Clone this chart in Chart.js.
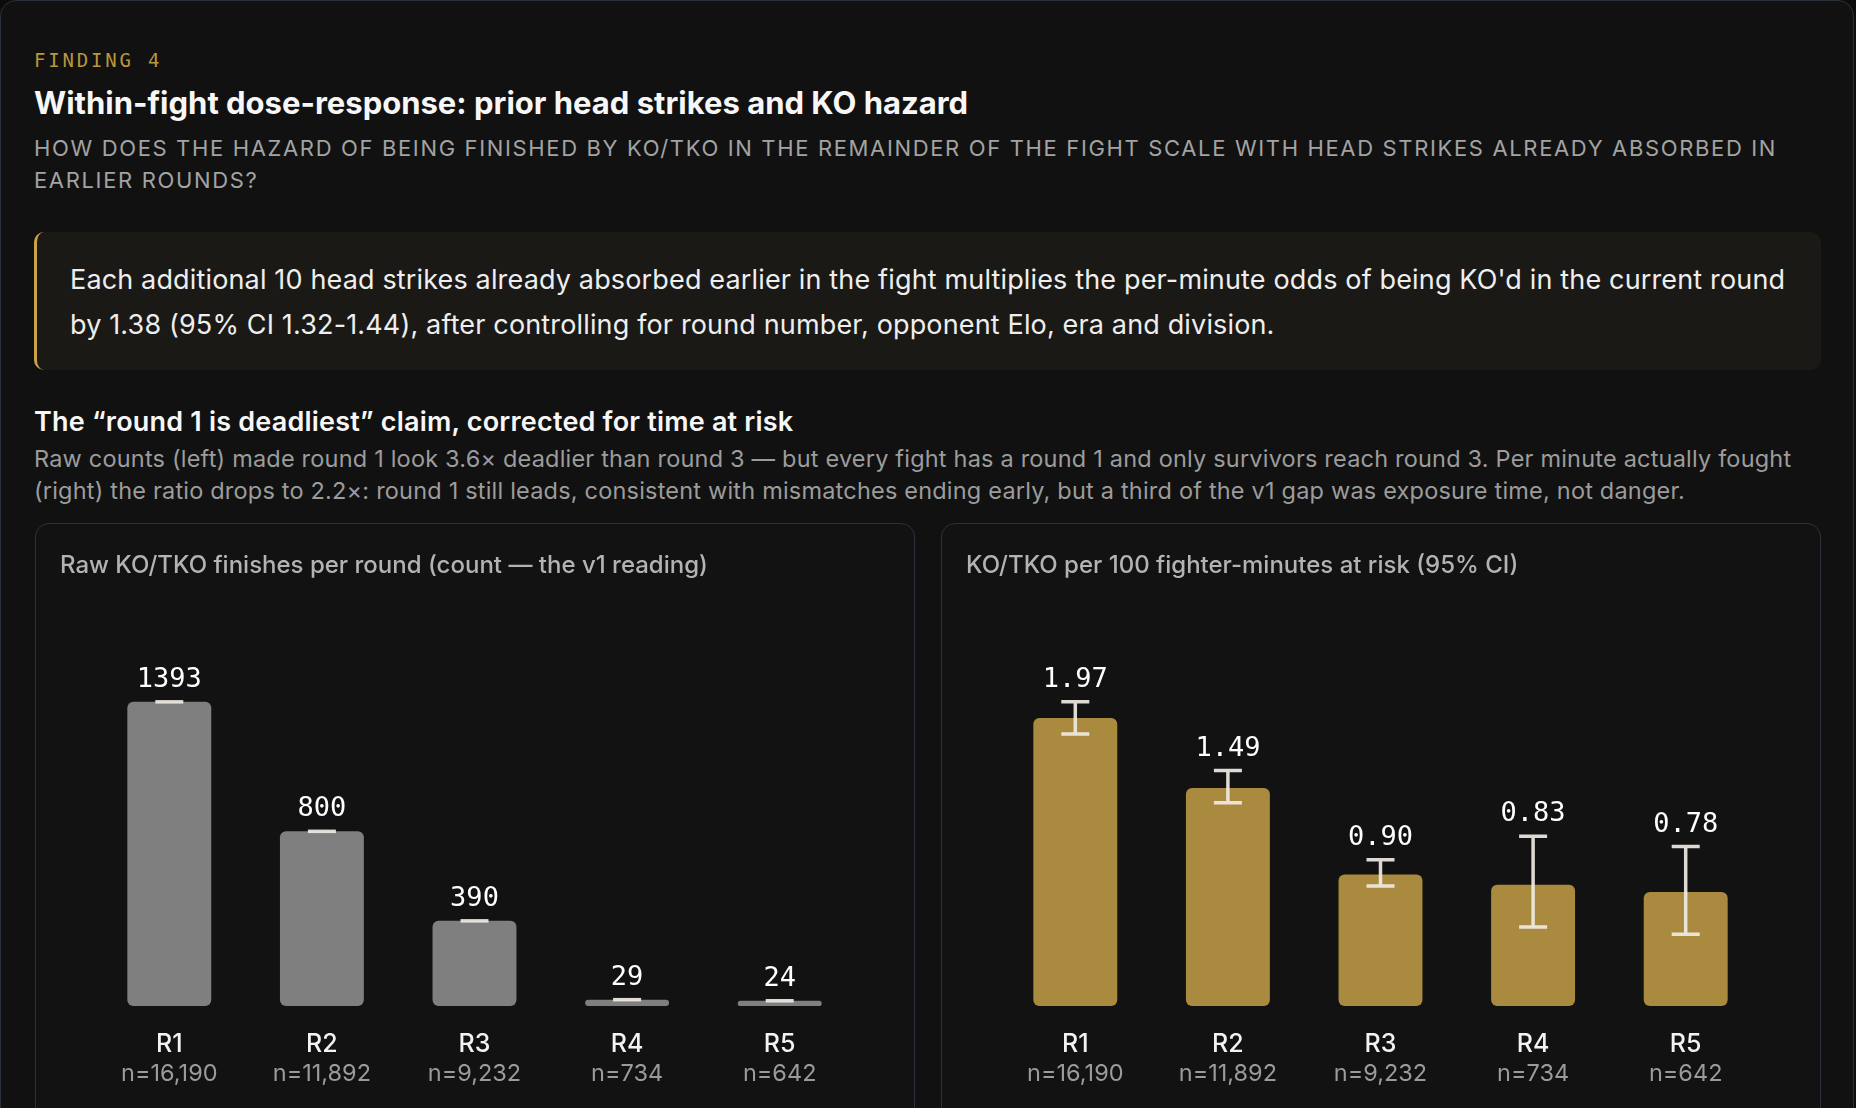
<!DOCTYPE html>
<html>
<head>
<meta charset="utf-8">
<script src="https://cdn.jsdelivr.net/npm/chart.js@4.4.1/dist/chart.umd.min.js"></script>
<style>
  html, body { margin: 0; padding: 0; background: #0c0c0c; overflow: hidden; }
  body { width: 1856px; height: 1108px; position: relative; font-family: "Inter", "Noto Sans", sans-serif; }
  .card { position: absolute; left: 0; top: 0; width: 1852px; height: 1200px; border: 1px solid #2a3038; border-radius: 16px; background: #111111; }
  .abs { position: absolute; white-space: nowrap; }
  #kicker { left: 34px; top: 48px; font: 19px/24px "DejaVu Sans Mono", monospace; color: #b8963e; letter-spacing: 2.8px; }
  #title { left: 34px; top: 84px; font-weight: 700; font-size: 31px; line-height: 38px; color: #f7f7f7; }
  #sub { left: 34px; top: 132px; width: 1787px; white-space: normal; font-size: 22px; line-height: 32px; color: #a3a3a3; letter-spacing: 1.65px; }
  #callout { left: 34px; top: 232px; width: 1787px; height: 138px; box-sizing: border-box; padding: 25px 0 0 33px; background: #1a1916; border-left: 3px solid #c9a24a; border-radius: 10px; font-size: 27px; line-height: 45px; letter-spacing: 0.15px; color: #eeeeee; white-space: normal; }
  #sect { left: 34px; top: 405px; font-weight: 600; font-size: 27px; line-height: 34px; letter-spacing: 0.2px; color: #f7f7f7; }
  #desc { left: 34px; top: 443px; width: 1790px; white-space: normal; font-size: 23.5px; line-height: 32px; letter-spacing: 0.2px; color: #9c9c9c; }
  .panel { position: absolute; top: 523px; width: 880px; height: 620px; box-sizing: border-box; border: 1px solid #2b323c; border-radius: 14px; background: #121212; }
  .ptitle { position: absolute; left: 24px; top: 26px; font-size: 24px; line-height: 30px; color: #b3b3b3; font-weight: 500; white-space: nowrap; }
  .wrap { position: absolute; left: 0; top: 0; width: 878px; height: 600px; }
</style>
</head>
<body>
<div class="card"></div>
<div class="abs" id="kicker">FINDING 4</div>
<div class="abs" id="title">Within-fight dose-response: prior head strikes and KO hazard</div>
<div class="abs" id="sub">HOW DOES THE HAZARD OF BEING FINISHED BY KO/TKO IN THE REMAINDER OF THE FIGHT SCALE WITH HEAD STRIKES ALREADY ABSORBED IN EARLIER ROUNDS?</div>
<div class="abs" id="callout">Each additional 10 head strikes already absorbed earlier in the fight multiplies the per-minute odds of being KO'd in the current round by 1.38 (95% CI 1.32-1.44), after controlling for round number, opponent Elo, era and division.</div>
<div class="abs" id="sect">The “round 1 is deadliest” claim, corrected for time at risk</div>
<div class="abs" id="desc">Raw counts (left) made round 1 look 3.6× deadlier than round 3 — but every fight has a round 1 and only survivors reach round 3. Per minute actually fought (right) the ratio drops to 2.2×: round 1 still leads, consistent with mismatches ending early, but a third of the v1 gap was exposure time, not danger.</div>

<div class="panel" style="left:35px">
  <div class="wrap"><canvas id="rawChart"></canvas></div>
  <div class="ptitle">Raw KO/TKO finishes per round (count — the v1 reading)</div>
</div>
<div class="panel" style="left:941px">
  <div class="wrap"><canvas id="rateChart"></canvas></div>
  <div class="ptitle">KO/TKO per 100 fighter-minutes at risk (95% CI)</div>
</div>

<script>
// data
var rounds = ["R1", "R2", "R3", "R4", "R5"];
var fightsN = ["n=16,190", "n=11,892", "n=9,232", "n=734", "n=642"];
var rawCounts = [1393, 800, 390, 29, 24];
var ratePer100 = [1.97, 1.49, 0.90, 0.83, 0.78];
var rateLo = [1.86, 1.39, 0.82, 0.54, 0.49];
var rateHi = [2.08, 1.61, 1.00, 1.16, 1.09];
var rateLabels = ["1.97", "1.49", "0.90", "0.83", "0.78"];
var rawLabels = ["1393", "800", "390", "29", "24"];

// error bars, value labels and the two-line round labels
var markPlugin = {
    id: "marks",
    afterDatasetsDraw: function(chart) {
        var ctx = chart.ctx;
        var xs = chart.scales.x;
        var ys = chart.scales.y;
        var o = chart.options.plugins.marks;
        var vals = chart.data.datasets[0].data;
        ctx.save();
        for (var i = 0; i < vals.length; i++) {
            var x = xs.getPixelForValue(i);
            var lo = o.lo ? o.lo[i] : vals[i];
            var hi = o.hi ? o.hi[i] : vals[i];
            var yLo = ys.getPixelForValue(lo);
            var yHi = ys.getPixelForValue(hi);
            ctx.strokeStyle = "rgba(240,236,228,0.92)";
            ctx.lineWidth = 3.5;
            ctx.beginPath();
            if (o.lo) {
                ctx.moveTo(x, yLo);
                ctx.lineTo(x, yHi);
                ctx.moveTo(x - 14, yLo);
                ctx.lineTo(x + 14, yLo);
            }
            ctx.moveTo(x - 14, yHi);
            ctx.lineTo(x + 14, yHi);
            ctx.stroke();

            var top = Math.min(yHi, ys.getPixelForValue(vals[i]));
            ctx.fillStyle = "#ffffff";
            ctx.font = "27px 'DejaVu Sans Mono', monospace";
            ctx.textAlign = "center";
            ctx.textBaseline = "middle";
            ctx.fillText(o.labels[i], x, top - 22);

            ctx.font = "500 25px Inter, 'Noto Sans', sans-serif";
            ctx.fillStyle = "#f2f2f2";
            ctx.fillText(rounds[i], x, chart.chartArea.bottom + 38);
            ctx.font = "23.5px Inter, 'Noto Sans', sans-serif";
            ctx.fillStyle = "#9b9b9b";
            ctx.fillText(fightsN[i], x, chart.chartArea.bottom + 68);
        }
        ctx.restore();
    }
};

function makeChart(id, values, color, lo, hi, labels) {
    var top = Math.max.apply(null, hi || values);
    return new Chart(document.getElementById(id).getContext("2d"), {
        type: "bar",
        data: {
            labels: rounds,
            datasets: [{
                data: values,
                backgroundColor: color,
                borderRadius: 6,
                borderSkipped: false,
                categoryPercentage: 1,
                barPercentage: 0.55
            }]
        },
        options: {
            responsive: true,
            maintainAspectRatio: false,
            animation: false,
            layout: { padding: { left: 57, right: 58, top: 117, bottom: 118 } },
            scales: {
                x: { display: false },
                y: { display: false, min: 0, max: top * 1.2 }
            },
            plugins: {
                legend: { display: false },
                tooltip: { enabled: false },
                marks: { lo: lo, hi: hi, labels: labels }
            }
        },
        plugins: [markPlugin]
    });
}

makeChart("rawChart", rawCounts, "#7f7f7f", null, null, rawLabels);
makeChart("rateChart", ratePer100, "#a98a3e", rateLo, rateHi, rateLabels);
</script>
</body>
</html>
